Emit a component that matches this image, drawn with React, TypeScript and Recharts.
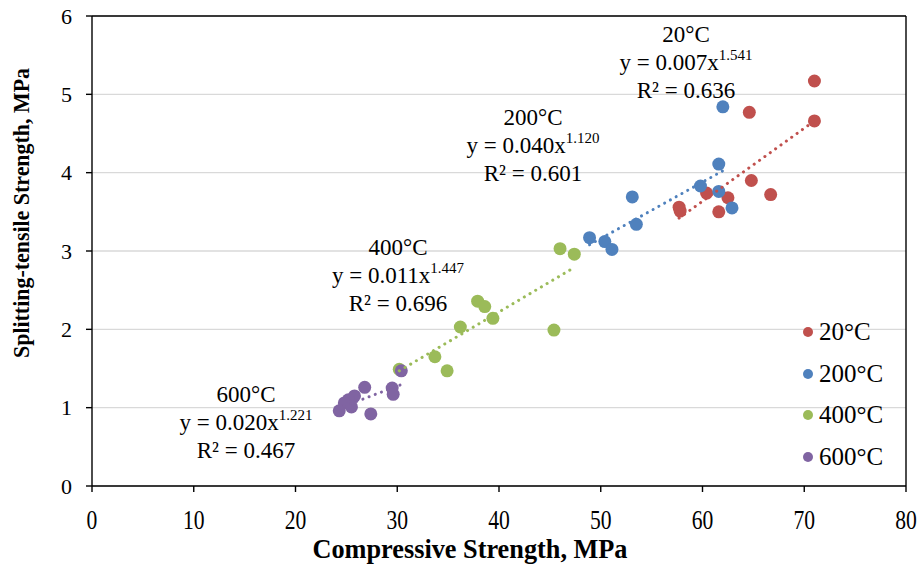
import React from "react"
import {
  CartesianGrid,
  Customized,
  Legend,
  ReferenceLine,
  Scatter,
  ScatterChart,
  XAxis,
  YAxis,
} from "recharts"

const FONT = '"Liberation Serif", "Times New Roman", serif'

const series = ["20°C", "200°C", "400°C", "600°C"]
const colors = ["#C0504D", "#4F81BD", "#9BBB59", "#8064A2"]

const x20 = [71.0, 64.6, 71.0, 64.8, 66.7, 62.5, 60.4, 61.6, 57.7, 57.8]
const y20 = [5.17, 4.77, 4.66, 3.9, 3.72, 3.68, 3.74, 3.5, 3.56, 3.51]

const x200 = [62.0, 61.6, 59.8, 61.6, 62.9, 53.1, 53.5, 48.9, 50.4, 51.1]
const y200 = [4.84, 4.11, 3.83, 3.76, 3.55, 3.69, 3.34, 3.17, 3.12, 3.02]

const x400 = [46.0, 47.4, 37.9, 38.6, 39.4, 36.2, 45.4, 33.7, 34.9, 30.2]
const y400 = [3.03, 2.96, 2.36, 2.29, 2.14, 2.03, 1.99, 1.65, 1.47, 1.49]

const x600 = [30.4, 26.8, 29.5, 29.6, 25.8, 25.2, 24.8, 25.5, 24.3, 27.4]
const y600 = [1.47, 1.26, 1.25, 1.17, 1.15, 1.1, 1.06, 1.01, 0.96, 0.92]

// trendline ends
const trendX = [
  [57.7, 71.0],
  [48.9, 62.5],
  [30.2, 47.4],
  [24.8, 30.5],
]
const trendY = [
  [3.42, 4.66],
  [3.08, 4.06],
  [1.47, 2.79],
  [1.02, 1.3],
]

const coef = ["0.007", "0.040", "0.011", "0.020"]
const power = ["1.541", "1.120", "1.447", "1.221"]
const r2 = ["0.636", "0.601", "0.696", "0.467"]

const xTicks = [0, 10, 20, 30, 40, 50, 60, 70, 80]
const yTicks = [0, 1, 2, 3, 4, 5, 6]

const toPoints = (xs: number[], ys: number[]) => xs.map((x, i) => ({ x, y: ys[i] }))

const points = [toPoints(x20, y20), toPoints(x200, y200), toPoints(x400, y400), toPoints(x600, y600)]
const trends = trendX.map((xs, i) => toPoints(xs, trendY[i]))

// label block centre x and first baseline
const labelPos = [
  [686, 42],
  [533, 125],
  [398, 255],
  [246, 402],
]

const XTick = (props: any) => {
  const { x, payload } = props
  return (
    <text
      transform={`translate(${x},529) scale(0.8,1)`}
      textAnchor="middle"
      fontFamily={FONT}
      fontSize={27}
      fill="#000"
    >
      {payload.value}
    </text>
  )
}

const Labels = () => (
  <g fontFamily={FONT} fontSize={23} fill="#000" textAnchor="middle">
    {labelPos.map(([cx, by], i) => (
      <g key={i}>
        <text x={cx} y={by}>{series[i]}</text>
        <text x={cx} y={by + 28}>
          y = {coef[i]}x
          <tspan fontSize={15} dy={-10}>{power[i]}</tspan>
        </text>
        <text x={cx} y={by + 56}>R² = {r2[i]}</text>
      </g>
    ))}
    <text
      x={470}
      y={558}
      fontSize={28}
      fontWeight="bold"
      textLength={315}
      lengthAdjust="spacingAndGlyphs"
    >
      Compressive Strength, MPa
    </text>
    <text
      transform="translate(29,213) rotate(-90)"
      fontSize={24}
      fontWeight="bold"
      textLength={290}
      lengthAdjust="spacingAndGlyphs"
    >
      Splitting-tensile Strength, MPa
    </text>
  </g>
)

const LegendBox = () => (
  <div style={{ fontFamily: FONT, fontSize: 25, color: "#000" }}>
    {series.map((s, i) => (
      <div key={s} style={{ display: "flex", alignItems: "center", height: 41.7 }}>
        <span
          style={{
            display: "inline-block",
            width: 10,
            height: 10,
            borderRadius: 5,
            background: colors[i],
            marginRight: 6,
          }}
        />
        {s}
      </div>
    ))}
  </div>
)

export default function App() {
  return (
    <div style={{ position: "absolute", left: 0, top: 0, background: "#fff" }}>
      <ScatterChart width={921} height={573} margin={{ top: 16, right: 15, bottom: 0, left: 0 }}>
        <CartesianGrid vertical={false} stroke="#D9D9D9" strokeWidth={1.3} />
        <XAxis
          type="number"
          dataKey="x"
          domain={[0, 80]}
          ticks={xTicks}
          height={87}
          tick={<XTick />}
          tickSize={6}
          axisLine={{ stroke: "#000", strokeWidth: 1.4 }}
          tickLine={{ stroke: "#000", strokeWidth: 1.4 }}
          interval={0}
        />
        <YAxis
          type="number"
          dataKey="y"
          domain={[0, 6]}
          ticks={yTicks}
          width={92}
          tickSize={6}
          tickMargin={14}
          axisLine={{ stroke: "#000", strokeWidth: 1.4 }}
          tickLine={{ stroke: "#000", strokeWidth: 1.4 }}
          tick={{ fill: "#000", fontSize: 22, fontFamily: FONT }}
          interval={0}
        />
        <ReferenceLine y={6} stroke="#000" strokeWidth={1.4} />
        <ReferenceLine x={80} stroke="#000" strokeWidth={1.4} />
        {points.map((data, i) => (
          <Scatter
            key={series[i]}
            name={series[i]}
            data={data}
            isAnimationActive={false}
            shape={(p: any) => <circle cx={p.cx} cy={p.cy} r={6.5} fill={colors[i]} />}
          />
        ))}
        {trends.map((data, i) => (
          <Scatter
            key={"trend" + i}
            data={data}
            isAnimationActive={false}
            legendType="none"
            line={{ stroke: colors[i], strokeWidth: 3, strokeDasharray: "0.1 6.5", strokeLinecap: "round" }}
            shape={() => <g />}
          />
        ))}
        <Legend
          layout="vertical"
          verticalAlign="middle"
          align="center"
          wrapperStyle={{ top: 311, left: 803, width: 115 }}
          content={() => <LegendBox />}
        />
        <Customized component={Labels} />
      </ScatterChart>
    </div>
  )
}
